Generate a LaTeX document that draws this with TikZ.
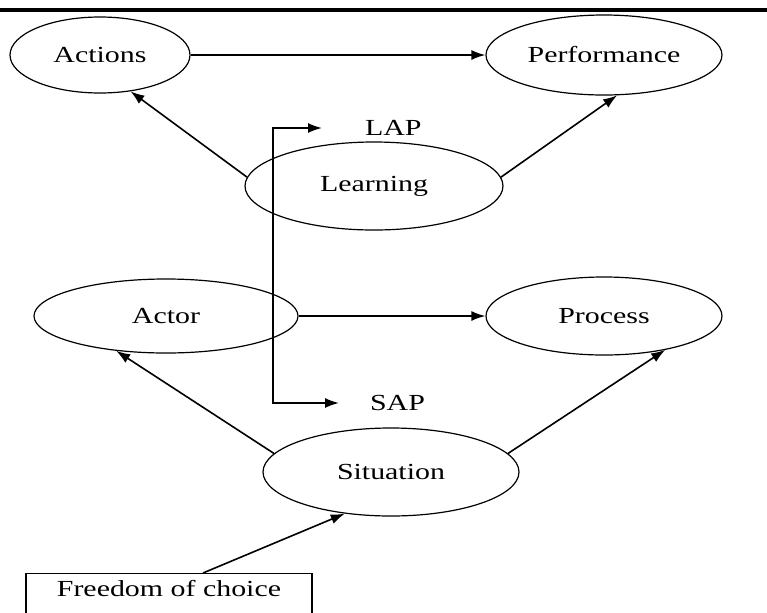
\documentclass[tikz,border=0pt]{standalone}
\usepackage{fontspec}
\setmainfont{Liberation Serif}[FakeStretch=1.3]
\usetikzlibrary{shapes.geometric,arrows.meta}

\tikzset{
  oval/.style={draw, ellipse, line width=0.6pt, inner sep=0pt},
  choicebox/.style={draw, rectangle, line width=0.6pt, minimum width=143pt,
                    inner ysep=3pt, text height=8.5pt, text depth=30pt},
  link/.style={->, line width=0.8pt}
}

\begin{document}
\begin{tikzpicture}[x=0.5pt, y=-0.5pt, >={Latex[length=7pt,width=5pt]},
                    font=\fontsize{11.5}{14}\selectfont]
        \useasboundingbox (0,0) rectangle (767,612);
        \draw[line width=1.7pt] (0,10) -- (767,10);

        % upper row
        \node[oval, minimum width=90pt,  minimum height=38pt] (actions)     at (100,55)  {Actions};
        \node[oval, minimum width=118pt, minimum height=40pt] (performance) at (604,55)  {Performance};
        \node[oval, minimum width=129pt, minimum height=44pt] (learning)    at (374,186) {Learning};
        \draw[link] (actions) -- (performance);
        \draw[link] (learning.176) -- (actions.-50);
        \draw[link] (learning.4)   -- (performance.-72);

        % lower row
        \node[oval, minimum width=132pt, minimum height=37pt] (actor)     at (166,316) {Actor};
        \node[oval, minimum width=118pt, minimum height=39pt] (process)   at (604,316) {Process};
        \node[oval, minimum width=128pt, minimum height=44pt] (situation) at (391,472) {Situation};
        \draw[link] (actor) -- (process);
        \draw[link] (situation.171) -- (actor.-145);
        \draw[link] (situation.9)   -- (process.-29);

        % LAP / SAP bracket
        \node[anchor=west] (lap) at (358,128) {LAP};
        \node[anchor=west] (sap) at (363,403) {SAP};
        \coordinate (lapturn) at (273,128);
        \coordinate (sapturn) at (273,403);
        \draw[<->, line width=0.8pt] ([xshift=-18pt]lap.west) -- (lapturn)
              -- (sapturn) -- ([xshift=-12pt]sap.west);

        \node[choicebox, anchor=north] (freedom) at (169,573) {Freedom of choice};
        \draw[link] ([xshift=17pt]freedom.north) -- (situation.-138);
    \end{tikzpicture}
\end{document}
